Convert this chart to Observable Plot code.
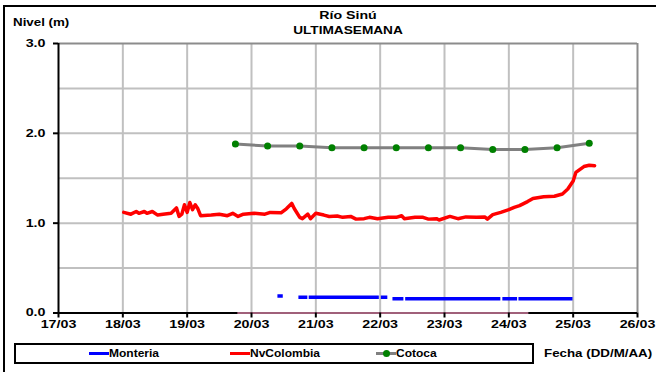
<!DOCTYPE html>
<html>
<head>
<meta charset="utf-8">
<script src="https://cdn.jsdelivr.net/npm/d3@7"></script>
<script src="https://cdn.jsdelivr.net/npm/@observablehq/plot@0.6"></script>
<style>
  html, body { margin: 0; padding: 0; background: #fff; overflow: hidden; }
  #wrap { position: relative; width: 656px; height: 372px; font-family: "Liberation Sans", Arial, sans-serif; font-weight: bold; color: #000; overflow: hidden; }
  #wrap svg { position: absolute; left: 0; top: 0; }
  .t { position: absolute; white-space: nowrap; line-height: 1; }
  .frame { position: absolute; left: 3px; top: 5px; width: 700px; height: 400px; border: 2px solid #000; box-sizing: border-box; pointer-events: none; }
  .legbox { position: absolute; left: 14px; top: 343px; width: 520px; height: 21px; border: 2px solid #000; box-sizing: border-box; }
  .sw { position: absolute; height: 3px; }
</style>
</head>
<body>
<div id="wrap">
  <div class="frame"></div>
</div>
<script>
// ---- data ----
const xTickLabels = ["17/03","18/03","19/03","20/03","21/03","22/03","23/03","24/03","25/03","26/03"];
const yTicks = [0, 1, 2, 3];
const yTickLabels = ["0.0","1.0","2.0","3.0"];
const yGrid = [0.5, 1, 1.5, 2, 2.5];

const nvTimes = ["18/03 00:20","18/03 03:00","18/03 05:00","18/03 06:00","18/03 08:00","18/03 09:00","18/03 11:00","18/03 13:00","18/03 15:00","18/03 18:00","18/03 20:00","18/03 21:00","18/03 22:00","18/03 23:00","19/03 00:00","19/03 01:00","19/03 02:00","19/03 03:00","19/03 04:00","19/03 05:00","19/03 09:00","19/03 12:00","19/03 15:00","19/03 17:00","19/03 19:00","19/03 21:00","20/03 01:00","20/03 05:00","20/03 07:00","20/03 11:00","20/03 13:00","20/03 15:00","20/03 16:00","20/03 18:00","20/03 19:00","20/03 21:00","20/03 22:00","21/03 00:00","21/03 03:00","21/03 05:00","21/03 08:00","21/03 10:00","21/03 13:00","21/03 15:00","21/03 18:00","21/03 20:00","21/03 23:00","22/03 03:00","22/03 06:00","22/03 08:00","22/03 09:00","22/03 13:00","22/03 16:00","22/03 18:00","22/03 21:00","22/03 22:00","23/03 02:00","23/03 05:00","23/03 08:00","23/03 12:00","23/03 15:00","23/03 16:00","23/03 18:00","23/03 21:00","24/03 00:00","24/03 02:00","24/03 04:00","24/03 07:00","24/03 09:00","24/03 13:00","24/03 17:00","24/03 20:00","24/03 22:00","25/03 00:00","25/03 01:00","25/03 04:00","25/03 06:00","25/03 08:00"];
const nvValues = [1.12,1.10,1.13,1.11,1.13,1.11,1.13,1.09,1.10,1.11,1.17,1.075,1.10,1.205,1.12,1.23,1.15,1.205,1.16,1.083,1.09,1.10,1.083,1.11,1.075,1.10,1.11,1.10,1.12,1.115,1.16,1.22,1.16,1.065,1.05,1.10,1.05,1.11,1.09,1.075,1.08,1.065,1.075,1.045,1.05,1.065,1.05,1.065,1.065,1.083,1.05,1.065,1.065,1.045,1.05,1.035,1.075,1.05,1.07,1.065,1.07,1.045,1.095,1.12,1.15,1.175,1.195,1.24,1.275,1.295,1.30,1.325,1.38,1.47,1.565,1.63,1.645,1.64];

const cotTimes = ["19/03 18:00","20/03 06:00","20/03 18:00","21/03 06:00","21/03 18:00","22/03 06:00","22/03 18:00","23/03 06:00","23/03 18:00","24/03 06:00","24/03 18:00","25/03 06:00"];
const cotValues = [1.88,1.86,1.86,1.84,1.84,1.84,1.84,1.84,1.82,1.82,1.84,1.89];

// Monteria: null marks a gap in the record
const monTimes = ["20/03 09:40","20/03 11:40","20/03 11:50","20/03 17:30","20/03 20:50","20/03 21:05","20/03 21:20","21/03 23:30","21/03 23:50","22/03 00:15","22/03 02:40","22/03 03:30","22/03 04:35","22/03 08:40","22/03 09:00","22/03 09:20","23/03 20:50","23/03 21:15","23/03 21:35","24/03 03:05","24/03 03:20","24/03 03:35","24/03 23:45"];
const monValues = [0.19,0.19,null,0.175,0.175,null,0.175,0.175,null,0.175,0.175,null,0.16,0.16,null,0.16,0.16,null,0.16,0.16,null,0.16,0.16];

const zeroTimes = ["19/03 19:00","24/03 07:00"];
const zeroValues = [0, 0];

// ---- build ----
const parseT = d3.utcParse("%d/%m %H:%M");
const xTicks = xTickLabels.map(s => parseT(s + " 00:00"));
const labelOf = new Map(xTicks.map((d, i) => [+d, xTickLabels[i]]));
const ylabOf = new Map(yTicks.map((d, i) => [d, yTickLabels[i]]));
const mk = (ts, vs) => ts.map((t, i) => ({t: parseT(t), v: vs[i]}));
const nv = mk(nvTimes, nvValues);
const cot = mk(cotTimes, cotValues);
const mon = mk(monTimes, monValues);
const zero = mk(zeroTimes, zeroValues);
const x0 = xTicks[0], x1 = xTicks[xTicks.length - 1];

const chart = Plot.plot({
  width: 656,
  height: 372,
  marginLeft: 58,
  marginRight: 19,
  marginTop: 43,
  marginBottom: 59.5,
  x: {type: "utc", domain: [x0, x1]},
  y: {domain: [0, 3]},
  style: {fontFamily: "'Liberation Sans', Arial, sans-serif", background: "transparent", color: "#000"},
  marks: [
    Plot.ruleY(yGrid, {stroke: "#c0c0c0", strokeWidth: 2}),
    Plot.ruleX(xTicks.slice(1, -1), {stroke: "#c0c0c0", strokeWidth: 2}),
    Plot.ruleY([3], {stroke: "#8c8c8c", strokeWidth: 2}),
    Plot.ruleX([x1], {stroke: "#8c8c8c", strokeWidth: 2}),
    Plot.line(cot, {x: "t", y: "v", stroke: "#808080", strokeWidth: 3}),
    Plot.dot(cot, {x: "t", y: "v", r: 3.5, fill: "#008000", stroke: "none"}),
    Plot.line(nv, {x: "t", y: "v", stroke: "#ff0000", strokeWidth: 3.5, strokeLinejoin: "round"}),
    Plot.line(mon, {x: "t", y: "v", stroke: "#0000ff", strokeWidth: 3.5, strokeLinecap: "butt"}),
    Plot.ruleX([x0], {stroke: "#000", strokeWidth: 2}),
    Plot.ruleY([0], {stroke: "#000", strokeWidth: 2}),
    Plot.line(zero, {x: "t", y: "v", stroke: "#a0607a", strokeWidth: 2}),
    Plot.axisY({ticks: yTicks, tickSize: 5, tickPadding: 8, strokeWidth: 2, stroke: "#000",
      tickFormat: d => ylabOf.get(d), fontSize: 10.5, fontWeight: "bold", label: null}),
    Plot.axisX({ticks: xTicks, tickSize: 5, tickPadding: 3, strokeWidth: 2, stroke: "#000",
      tickFormat: d => labelOf.get(+d), fontSize: 10.5, fontWeight: "bold", label: null})
  ]
});
const wrap = document.getElementById("wrap");
wrap.insertBefore(chart, wrap.firstChild);

// the reference's lettering is stretched horizontally
chart.querySelectorAll("text").forEach(t => {
  const x = parseFloat(t.getAttribute("x") || 0);
  const y = parseFloat(t.getAttribute("y") || 0);
  const tr = t.getAttribute("transform") || "";
  t.setAttribute("transform", `${tr} translate(${x},${y}) scale(1.36,1) translate(${-x},${-y})`);
});

function addText(txt, left, top, size, sx, origin) {
  const el = document.createElement("div");
  el.className = "t";
  el.textContent = txt;
  el.style.left = left + "px";
  el.style.top = top + "px";
  el.style.fontSize = size + "px";
  el.style.transformOrigin = origin || "0 0";
  el.style.transform = (origin === "center" ? "translateX(-50%) " : "") + `scaleX(${sx})`;
  wrap.appendChild(el);
  return el;
}
addText("Nivel (m)", 13, 17, 10.5, 1.27);
addText("Río Sinú", 348, 10, 10.5, 1.35, "center");
addText("ULTIMASEMANA", 348, 25, 10.5, 1.3, "center");
addText("Fecha (DD/M/AA)", 544, 348, 10.5, 1.27);

const lb = document.createElement("div");
lb.className = "legbox";
wrap.appendChild(lb);
const legend = [
  {name: "Monteria", color: "#0000ff", x: 89, w: 20, dot: false},
  {name: "NvColombia", color: "#ff0000", x: 230, w: 20, dot: false},
  {name: "Cotoca", color: "#808080", x: 376, w: 20, dot: true}
];
legend.forEach(item => {
  const s = document.createElement("div");
  s.className = "sw";
  s.style.left = item.x + "px";
  s.style.top = "352px";
  s.style.width = item.w + "px";
  s.style.background = item.color;
  wrap.appendChild(s);
  if (item.dot) {
    const d = document.createElement("div");
    Object.assign(d.style, {position: "absolute", left: (item.x + item.w / 2 - 3.5) + "px", top: "350px", width: "7px", height: "7px", borderRadius: "50%", background: "#008000"});
    wrap.appendChild(d);
  }
  addText(item.name, item.x + item.w, 349, 10, 1.2);
});
</script>
</body>
</html>
